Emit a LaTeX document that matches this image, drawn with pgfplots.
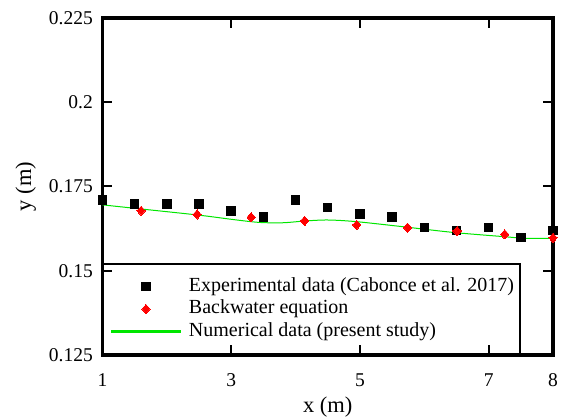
\documentclass[border=0pt]{standalone}
\usepackage{fontspec}
\setmainfont{Liberation Serif}
\usepackage{pgfplots}
\pgfplotsset{compat=1.18}
\definecolor{numgreen}{RGB}{0,230,0}
\begin{document}
\begin{tikzpicture}
\begin{axis}[
  at={(0,0)}, anchor=south west,
  scale only axis, width=450.5bp, height=337bp,
  xmin=1, xmax=8, ymin=0.125, ymax=0.225,
  xtick={1,3,5,7,8}, xticklabels={1,3,5,7,8},
  ytick={0.125,0.15,0.175,0.2,0.225},
  yticklabels={0.125,0.15,0.175,0.2,0.225},
  /pgf/number format/assume math mode=true,
  tick align=inside, major tick length=10bp,
  every tick/.style={line width=2bp, black},
  axis line style={line width=3.5bp},
  ticklabel style={font=\fontsize{19.5bp}{22bp}\selectfont},
  xticklabel style={anchor=north, inner sep=0pt, yshift=-18.5bp},
  yticklabel style={anchor=east, inner sep=0pt, xshift=-9.5bp},
  xlabel={x (m)}, ylabel={y (m)},
  label style={font=\fontsize{22.5bp}{26bp}\selectfont},
  xlabel style={at={(axis description cs:0.5,0)}, anchor=base, yshift=-57.3bp},
  ylabel style={at={(axis description cs:-0.1583,0.5)}, anchor=base},
  clip=false,
  legend style={at={(axis description cs:0,0)}, anchor=south west,
    draw=black, line width=2bp, fill=none,
    inner xsep=6.5bp, inner ysep=13bp, row sep=3.5bp, column sep=7bp,
    font=\fontsize{20bp}{23bp}\selectfont,
    nodes={inner sep=0pt, text height=14bp, text depth=5bp}},
  legend cell align=left,
]
\addplot[only marks, mark=square*, mark size=4.25bp, mark options={draw=black, fill=black, line width=0pt},
  legend image code/.code={\path (0bp,0bp) (70bp,0bp);
    \draw[only marks, mark=square*, mark size=4.25bp, mark options={draw=black, fill=black, line width=0pt}] plot coordinates {(35bp,0bp)};}]
coordinates {
(1.0,0.1710) (1.5,0.1698) (2.0,0.1698) (2.5,0.1698) (3.0,0.1678) (3.5,0.1659)
(4.0,0.1710) (4.5,0.1688) (5.0,0.1668) (5.5,0.1659) (6.0,0.1629) (6.5,0.1619)
(7.0,0.1629) (7.5,0.1599) (8.0,0.1619)
};
\addlegendentry{Experimental data (Cabonce et al. 2017)}
\addplot[only marks, mark=diamond*, mark size=4.6bp, mark options={draw=red, fill=red, line width=0pt, xscale=1.2},
  legend image code/.code={\path (0bp,0bp) (70bp,0bp);
    \draw[only marks, mark=diamond*, mark size=4.6bp, mark options={draw=red, fill=red, line width=0pt, xscale=1.2}] plot coordinates {(35bp,0bp)};}]
coordinates {
(1.60,0.1678) (2.47,0.1667) (3.31,0.1659) (4.14,0.1648) (4.95,0.1636)
(5.74,0.1628) (6.51,0.1618) (7.25,0.1608) (8.0,0.1598)
};
\addlegendentry{Backwater equation}
\addplot[smooth, draw=numgreen, line width=1bp, no marks,
  legend image code/.code={\path (0bp,0bp) (70bp,0bp);
    \draw[only marks, mark=square*, mark size=0.55bp, mark options={draw=none, fill=numgreen, line width=0pt, xscale=63.6}] plot coordinates {(35bp,0bp)};}]
coordinates {
(1.0,0.16955) (1.60,0.16833) (2.48,0.16654) (3.0,0.16527) (3.31,0.16456)
(3.52,0.16426) (3.83,0.16426) (4.14,0.16476) (4.50,0.16506) (4.95,0.16456)
(5.75,0.16289) (6.01,0.16230) (6.53,0.16122) (7.25,0.16010) (7.56,0.15963)
(8.0,0.15963)
};
\addlegendentry{Numerical data (present study)}
\end{axis}
\pgfresetboundingbox
\path[use as bounding box] (-102.5bp,-62bp) rectangle (461.5bp,355bp);
\end{tikzpicture}
\end{document}
